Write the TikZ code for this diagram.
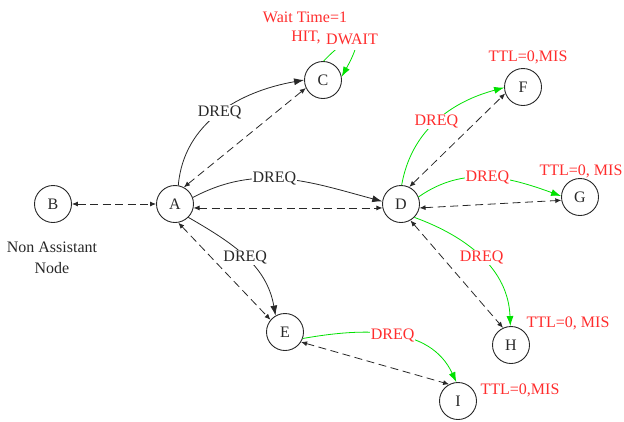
\documentclass[tikz,border=0pt]{standalone}
\usepackage{fontspec}
\setmainfont{Liberation Serif}
\usetikzlibrary{arrows.meta}
\definecolor{ink}{RGB}{40,40,40}
\definecolor{alertred}{RGB}{255,45,45}
\definecolor{linkgreen}{RGB}{0,225,0}
\begin{document}
\begin{tikzpicture}[x=1pt,y=1pt,font=\fontsize{16}{18}\selectfont,
  station/.style={circle,draw=ink,line width=0.9pt,minimum size=37pt,inner sep=0pt,text=ink},
  req/.style={ink,line width=0.8pt,-{Latex[length=10pt,width=7pt]}},
  greq/.style={linkgreen,line width=0.8pt,-{Latex[length=10pt,width=7pt]}},
  reply/.style={ink,line width=0.8pt,dash pattern=on 8pt off 4.5pt,
    {Latex[length=6pt,width=5pt]}-{Latex[length=6pt,width=5pt]}},
  lbl/.style={fill=white,inner sep=1pt,text=ink},
  rlbl/.style={fill=white,inner sep=1pt,text=alertred},
  note/.style={text=alertred,inner sep=1pt}]
\useasboundingbox (0,0) rectangle (624,-421);

% stations
\node[station] (B) at (53,-204) {B};
\node[station] (A) at (175,-204) {A};
\node[station] (C) at (323,-80) {C};
\node[station] (D) at (401,-204) {D};
\node[station] (E) at (285,-332) {E};
\node[station] (F) at (523,-87) {F};
\node[station] (G) at (580,-197) {G};
\node[station] (H) at (511,-345) {H};
\node[station] (I) at (458,-401) {I};

\node[text=ink,align=center,font=\fontsize{16}{21}\selectfont] (nalbl) at (52,-257.5) {Non Assistant\\Node};

% request paths
\draw[req] (A.80) to[out=85,in=190] node[lbl]{DREQ} (C.west);
\draw[req] (A.20) to[out=28,in=165] node[lbl,pos=0.44]{DREQ} (D.172);
\draw[req] (A.-45) to[out=-30,in=100] node[lbl]{DREQ} (E.120);
\draw[greq] (D.88) to[out=80,in=195] node[rlbl]{DREQ} (F.182);
\draw[greq] (D.22) to[out=35,in=160] node[rlbl]{DREQ} (G.177);
\draw[greq] (D.-45) to[out=-20,in=92] node[rlbl]{DREQ} (H.92);
\draw[greq] (E.-20) to[out=10,in=115] node[rlbl]{DREQ} (I.95);

% replies
\draw[reply] (B.east) -- (A.west);
\draw[reply] (A.62) -- (C.205);
\draw[reply] (A.-12) -- (D.192);
\draw[reply] (A.-80) -- (E.140);
\draw[reply] (D.64) -- (F.200);
\draw[reply] (D.-12) -- (G.190);
\draw[reply] (D.-60) -- (H.115);
\draw[reply] (E.-32) -- (I.118);

% waiting loop on C, its top hidden behind the labels
\draw[greq] (C.88) .. controls (345,-38) and (370,-26) .. (C.10);
\node[note] (wait) at (305,-17) {Wait Time=1};
\node[note,fill=white] (hit) at (306,-37) {HIT,};
\node[note,fill=white,minimum height=22pt,inner xsep=2pt] (dwait) at (352,-39) {DWAIT};

% cache misses
\node[note] (missF) at (528,-57) {TTL=0,MIS};
\node[note] (missG) at (581,-171) {TTL=0, MIS};
\node[note] (missH) at (568,-323) {TTL=0, MIS};
\node[note] (missI) at (520,-390) {TTL=0,MIS};
\end{tikzpicture}
\end{document}
